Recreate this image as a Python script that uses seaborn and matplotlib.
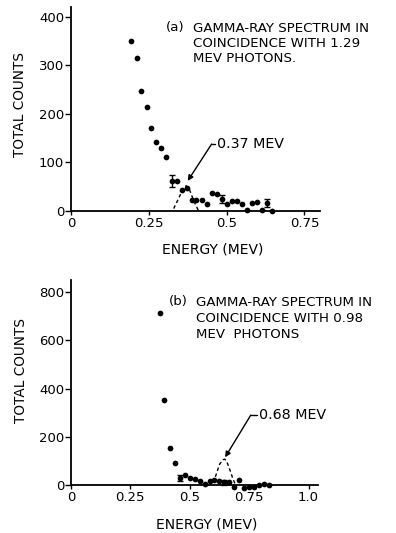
import numpy as np
import pandas as pd
import matplotlib
matplotlib.use("Agg")
import matplotlib.pyplot as plt
import seaborn as sns

# ---------------- data ----------------
# Panel (a)
a_energy = [0.194, 0.211, 0.225, 0.243, 0.258, 0.273, 0.289, 0.306, 0.324, 0.340,
            0.356, 0.372, 0.389, 0.403, 0.421, 0.437, 0.453, 0.469, 0.486, 0.500,
            0.517, 0.533, 0.550, 0.566, 0.582, 0.598, 0.614, 0.630, 0.647]
a_counts = [351, 314, 248, 215, 170, 143, 129, 112, 62, 62,
            43, 47, 23, 23, 23, 14, 38, 35, 25, 14,
            21, 21, 14, 3, 17, 19, 3, 17, 0]
a_err_energy = [0.324, 0.486, 0.630]
a_err_counts = [62, 25, 17]
a_err_size = [12, 8, 8]
a_fit_energy = [0.330, 0.345, 0.360, 0.370, 0.380, 0.395, 0.410]
a_fit_counts = [5, 25, 45, 52, 45, 20, 0]

# Panel (b)
b_energy = [0.374, 0.392, 0.416, 0.437, 0.458, 0.479, 0.500, 0.521, 0.542, 0.563,
            0.584, 0.601, 0.622, 0.643, 0.664, 0.685, 0.706, 0.727, 0.748, 0.769,
            0.790, 0.811, 0.832]
b_counts = [712, 353, 152, 90, 28, 40, 28, 24, 18, 3,
            18, 21, 18, 11, 11, -10, 21, -12, -10, -7,
            -1, 3, -1]
b_err_energy = [0.458, 0.643]
b_err_counts = [28, 11]
b_err_size = [12, 10]
b_fit_energy = [0.598, 0.610, 0.625, 0.640, 0.647, 0.655, 0.670, 0.682, 0.693]
b_fit_counts = [10, 40, 85, 105, 107, 100, 60, 25, 0]

a_xticks = [0, 0.25, 0.5, 0.75]
a_xticklabels = ["0", "0.25", "0.5", "0.75"]
a_yticks = [0, 100, 200, 300, 400]
b_xticks = [0, 0.25, 0.5, 0.75, 1.0]
b_xticklabels = ["0", "0.25", "0.5", "0.75", "1.0"]
b_yticks = [0, 200, 400, 600, 800]

a_tag = "(a)"
a_title_lines = ["GAMMA-RAY SPECTRUM IN", "COINCIDENCE WITH 1.29", "MEV PHOTONS."]
b_tag = "(b)"
b_title_lines = ["GAMMA-RAY SPECTRUM IN", "COINCIDENCE WITH 0.98", "MEV  PHOTONS"]
a_peak_label = "0.37 MEV"
b_peak_label = "0.68 MEV"

# ---------------- style ----------------
sns.set_style("ticks")
plt.rcParams['font.family'] = ['DejaVu Sans']
plt.rcParams['axes.linewidth'] = 1.3
plt.rcParams['axes.edgecolor'] = 'black'
plt.rcParams['axes.labelcolor'] = 'black'
plt.rcParams['text.color'] = 'black'
plt.rcParams['xtick.color'] = 'black'
plt.rcParams['ytick.color'] = 'black'
plt.rcParams['xtick.major.width'] = 1.0
plt.rcParams['ytick.major.width'] = 1.0
plt.rcParams['xtick.major.size'] = 3
plt.rcParams['ytick.major.size'] = 4

W, H = 396, 533
fig = plt.figure(figsize=(W / 100, H / 100), dpi=100)
fig.patch.set_facecolor("white")

ax1 = fig.add_axes([71 / W, 1 - 211 / H, 249 / W, 204 / H])
ax2 = fig.add_axes([71 / W, 1 - 485 / H, 247 / W, 205 / H])


def draw_panel(ax, en, ct, ee, ec, es, fe, fc, xlim, ylim, xticks, xtl, yticks,
               tag, lines, tag_x, line_x, line_ys, peak_label, tip, kink, text_pos,
               xlabel_x, xlabel_y, ylabel_x, ylabel_y):
    df = pd.DataFrame({"energy": en, "counts": ct})
    sns.scatterplot(data=df, x="energy", y="counts", ax=ax, color="black",
                    s=17, edgecolor="black", linewidth=0, clip_on=False, zorder=3)
    ax.errorbar(ee, ec, yerr=es, fmt="none", ecolor="black", elinewidth=1.0,
                capsize=2, capthick=1.0, clip_on=False, zorder=3)
    dfit = pd.DataFrame({"energy": fe, "counts": fc})
    sns.lineplot(data=dfit, x="energy", y="counts", ax=ax, color="black",
                 linestyle=(0, (2.5, 2)), linewidth=1.0, sort=False, zorder=2)
    ax.set_xlim(*xlim)
    ax.set_ylim(*ylim)
    ax.set_xticks(xticks)
    ax.set_xticklabels(xtl)
    ax.set_yticks(yticks)
    ax.tick_params(labelsize=9.5, pad=1, colors="black")
    ax.set_xlabel("ENERGY (MEV)", fontsize=10)
    ax.set_ylabel("TOTAL COUNTS", fontsize=9.8)
    ax.xaxis.set_label_coords(xlabel_x, xlabel_y)
    ax.yaxis.set_label_coords(ylabel_x, ylabel_y)
    sns.despine(ax=ax)
    ax.text(tag_x / W, 1 - line_ys[0] / H, tag, transform=fig.transFigure,
            fontsize=9.6, va="center", ha="left")
    for txt, yy in zip(lines, line_ys):
        ax.text(line_x / W, 1 - yy / H, txt, transform=fig.transFigure,
                fontsize=9.6, va="center", ha="left")
    # annotation line with kink
    ax.annotate("", xy=tip, xytext=kink,
                arrowprops=dict(arrowstyle="-|>", color="black", lw=1.0,
                                mutation_scale=8, shrinkA=0, shrinkB=0))
    ax.plot([kink[0], text_pos[0] - 0.008 * (xlim[1])], [kink[1], kink[1]],
            color="black", lw=1.0)
    ax.text(text_pos[0], text_pos[1], peak_label, fontsize=10.3,
            va="center", ha="left")


draw_panel(ax1, a_energy, a_counts, a_err_energy, a_err_counts, a_err_size,
           a_fit_energy, a_fit_counts, (0, 0.8), (0, 420),
           a_xticks, a_xticklabels, a_yticks,
           a_tag, a_title_lines, 166, 193, [28, 43, 58], a_peak_label,
           tip=(0.375, 62), kink=(0.452, 138), text_pos=(0.47, 138),
           xlabel_x=0.57, xlabel_y=-0.155, ylabel_x=-0.175, ylabel_y=0.52)

draw_panel(ax2, b_energy, b_counts, b_err_energy, b_err_counts, b_err_size,
           b_fit_energy, b_fit_counts, (0, 1.04), (0, 850),
           b_xticks, b_xticklabels, b_yticks,
           b_tag, b_title_lines, 169, 196, [302, 318, 334], b_peak_label,
           tip=(0.649, 115), kink=(0.757, 290), text_pos=(0.79, 290),
           xlabel_x=0.55, xlabel_y=-0.16, ylabel_x=-0.175, ylabel_y=0.56)

fig.savefig("out.png", dpi=100, facecolor="white")
